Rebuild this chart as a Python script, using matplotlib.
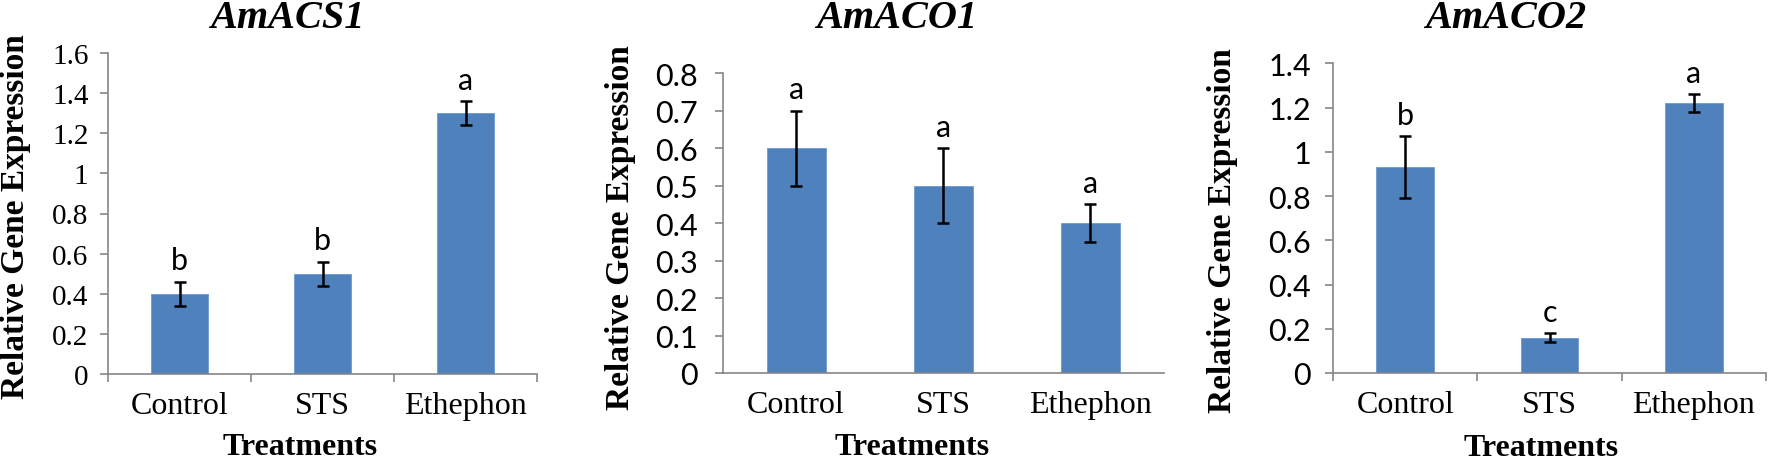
'''
fun: relative expression of ethylene genes under three treatments
'''
import numpy as np
import matplotlib
matplotlib.use('Agg')
import matplotlib.pyplot as plt
from matplotlib.ticker import MultipleLocator, FormatStrFormatter, FixedLocator

treatments = ['Control', 'STS', 'Ethephon']
genes = ['AmACS1', 'AmACO1', 'AmACO2']

acs1 = [0.40, 0.50, 1.30]
acs1_err = [0.06, 0.06, 0.06]
acs1_letters = ['b', 'b', 'a']

aco1 = [0.60, 0.50, 0.40]
aco1_err = [0.10, 0.10, 0.05]
aco1_letters = ['a', 'a', 'a']

aco2 = [0.93, 0.16, 1.22]
aco2_err = [0.14, 0.02, 0.04]
aco2_letters = ['b', 'c', 'a']

ymax = [1.6, 0.8, 1.4]
ystep = [0.2, 0.1, 0.2]

W, H = 1772, 460
SERIF = 'Liberation Serif'
SANS = 'Lato'
BLUE = '#4F81BD'
GREY = '#868686'


def px_rect(l, t, r, b):
	'''pixel box -> figure fraction'''
	return [l / W, 1 - b / H, (r - l) / W, (b - t) / H]


def plot_panel(fig, rect, vals, errs, letters, top, step, ytick_font, ytick_size, xticks_on, ypad):
	ax = fig.add_axes(px_rect(*rect))
	x = np.arange(len(treatments))
	ax.bar(x, vals, width=0.4, color=BLUE, edgecolor='#6C98CF', linewidth=0.6, zorder=2)
	ax.errorbar(x, vals, yerr=errs, fmt='none', ecolor='black', elinewidth=1.8,
		capsize=4.5, capthick=1.8, zorder=3)
	for xi, v, e, lab in zip(x, vals, errs, letters):
		ax.annotate(lab, (xi, v + e), xytext=(0, 9), textcoords='offset points',
			ha='center', va='baseline', fontsize=22, family=SANS)

	ax.set_xlim(-0.5, len(treatments) - 0.5)
	ax.set_ylim(0, top)
	ax.yaxis.set_major_locator(MultipleLocator(step))
	ax.yaxis.set_major_formatter(FormatStrFormatter('%g'))
	for s in ['top', 'right']:
		ax.spines[s].set_visible(False)
	for s in ['left', 'bottom']:
		ax.spines[s].set_color(GREY)
		ax.spines[s].set_linewidth(1.2)

	ax.set_xticks(x)
	ax.set_xticklabels(treatments, family=SERIF, fontsize=23)
	ax.tick_params(axis='x', length=0, pad=12)
	if xticks_on:
		ax.xaxis.set_minor_locator(FixedLocator(np.arange(len(treatments) + 1) - 0.5))
		ax.tick_params(axis='x', which='minor', length=6, width=1.2, color=GREY, direction='out')
	ax.tick_params(axis='y', length=6, width=1.2, color=GREY, direction='out', pad=ypad)
	for t in ax.get_yticklabels():
		t.set_family(ytick_font)
		t.set_fontsize(ytick_size)
	return ax


fig = plt.figure(figsize=(W / 100., H / 100.), dpi=100)

rects = [(108, 54, 537, 375), (722.5, 74.3, 1164, 374), (1333, 64.3, 1766, 374)]
data = [(acs1, acs1_err, acs1_letters), (aco1, aco1_err, aco1_letters), (aco2, aco2_err, aco2_letters)]
yfonts = [SERIF, SANS, SANS]
ysizes = [21, 22, 22]
xticks = [True, False, True]
ypads = [8, 12, 10]

title_x = [287, 897, 1506]
ylabel_pos = [(16, 217), (620, 228), (1223, 231)]
xlabel_pos = [(300, 455), (912, 455), (1541, 456)]

for i in range(3):
	vals, errs, letters = data[i]
	plot_panel(fig, rects[i], vals, errs, letters, ymax[i], ystep[i], yfonts[i], ysizes[i],
		xticks[i], ypads[i])
	fig.text(title_x[i] / W, 1 - 28 / H, genes[i], ha='center', va='baseline',
		family=SERIF, fontsize=29, fontweight='bold', fontstyle='italic')
	fig.text(ylabel_pos[i][0] / W, 1 - ylabel_pos[i][1] / H, 'Relative Gene Expression',
		ha='center', va='center', rotation=90, family=SERIF, fontsize=24, fontweight='bold')
	fig.text(xlabel_pos[i][0] / W, 1 - xlabel_pos[i][1] / H, 'Treatments',
		ha='center', va='baseline', family=SERIF, fontsize=23, fontweight='bold')

plt.savefig('out.png', dpi=100)
